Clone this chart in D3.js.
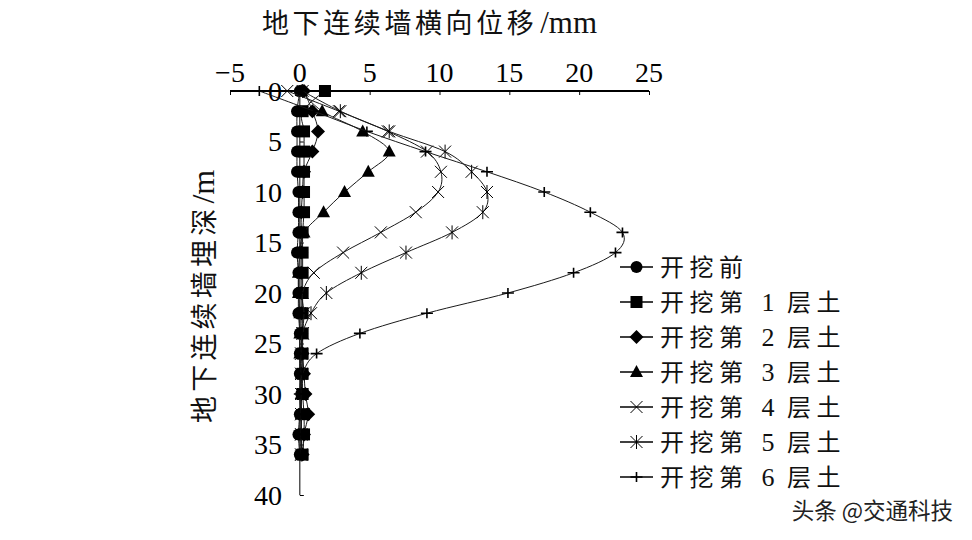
<!DOCTYPE html>
<html><head><meta charset="utf-8">
<script src="https://cdn.jsdelivr.net/npm/d3@7"></script>
<style>
body{margin:0;background:#fff;}
svg{display:block;}
</style></head>
<body>
<svg id="c" width="972" height="540"></svg>
<script>
// ---- data ----
const depths = [0,2,4,6,8,10,12,14,16,18,20,22,24,26,28,30,32,34,36];
const legendPrefix = "开挖第";
const legendSuffix = "层土";
const seriesNames = ["开挖前","开挖第 1 层土","开挖第 2 层土","开挖第 3 层土","开挖第 4 层土","开挖第 5 层土","开挖第 6 层土"];
const seriesLayer = [null,1,2,3,4,5,6];
const s0 = [0,-0.2,-0.2,-0.2,-0.2,-0.1,-0.1,-0.1,-0.2,-0.1,-0.1,-0.1,0,0,0,0.1,0,-0.1,0];
const s1 = [1.8,0.2,0.3,0.3,0.3,0.3,0.3,0.2,0.2,0.2,0.2,0.2,0.2,0.2,0.2,0.2,0.3,0.3,0.2];
const s2 = [0.3,0.9,1.3,0.9,0.3,0.2,0.1,0.1,0.1,0.1,0.1,0.1,0.1,0.2,0.3,0.4,0.6,0.3,0.2];
const s3 = [0.1,1.6,4.5,6.4,4.9,3.2,1.7,0.3,0,-0.1,-0.1,0,0,0,0.1,0.1,0.1,0.1,0.1];
const s4 = [-0.9,2.8,6.3,9.1,10.1,9.9,8.3,5.8,3.1,1.0,0.2,0.3,0.2,0.1,0.1,0.1,0.1,0.1,0.1];
const s5 = [0.2,2.9,6.4,10.4,12.3,13.4,13.1,10.9,7.6,4.4,1.9,0.8,0.2,0.1,0.1,0.1,0.1,0.1,0.1];
const s6 = [-2.9,1.0,4.8,9.0,13.4,17.5,20.8,23.1,22.6,19.6,14.9,9.1,4.3,1.2,0.2,0,0.1,0.1,0.1];
const seriesValues = [s0,s1,s2,s3,s4,s5,s6];
const markerTypes = ["circle","square","diamond","triangle","x","star","plus"];
const xTicks = [-5,0,5,10,15,20,25];
const yTicks = [0,5,10,15,20,25,30,35,40];
const xTitle = "地下连续墙横向位移";
const xUnit = "/mm";
const yTitle = "地下连续墙埋深";
const yUnit = "/m";
const watermark = "头条 @交通科技";

// ---- drawing ----
const svg = d3.select("#c");
const x = d3.scaleLinear().domain([-5,25]).range([230,649]);
const y = d3.scaleLinear().domain([0,40]).range([91,495]);
const serif = "'Liberation Serif','Times New Roman',serif";
const cjk = "'Noto Sans CJK SC','Noto Sans',sans-serif";

// x axis (top)
const xg = svg.append("g").attr("transform",`translate(0,${y(0)})`);
xg.call(d3.axisBottom(x).tickValues(xTicks).tickSize(4).tickFormat(""));
xg.select(".domain").attr("stroke","#000").attr("stroke-width",2.2).attr("d",`M${x(-5)},0H${x(25)}`);
xg.selectAll(".tick line").attr("stroke","#000").attr("stroke-width",1);
svg.append("g").selectAll("text").data(xTicks).join("text")
  .attr("x",d=>x(d)).attr("y",82).attr("text-anchor","middle")
  .attr("font-family",serif).attr("font-size",28).attr("fill","#000")
  .text(d=>d<0?"\u2212"+Math.abs(d):d);

// y axis at x=0
const yg = svg.append("g").attr("transform",`translate(${x(0)},0)`);
yg.call(d3.axisRight(y).tickValues(yTicks).tickSize(4).tickFormat(""));
yg.select(".domain").attr("stroke","#000").attr("stroke-width",1).attr("d",`M0,${y(0)}V${y(40)}`);
yg.selectAll(".tick line").attr("stroke","#000").attr("stroke-width",1);
svg.append("g").selectAll("text").data(yTicks).join("text")
  .attr("x",282).attr("y",d=>y(d)).attr("dy","0.35em").attr("text-anchor","end")
  .attr("font-family",serif).attr("font-size",28).attr("fill","#000")
  .text(d=>d);

// titles
svg.append("text").attr("x",262).attr("y",33).attr("fill","#111")
  .attr("font-family",cjk).attr("font-size",27).attr("letter-spacing",3.6).text(xTitle);
svg.append("text").attr("x",597).attr("y",33).attr("text-anchor","end").attr("fill","#111")
  .attr("font-family",serif).attr("font-size",31).text(xUnit);
const ytc = svg.append("text").attr("transform","translate(214,423) rotate(-90)").attr("fill","#111")
  .attr("font-family",cjk).attr("font-size",27).attr("letter-spacing",4.2).text(yTitle);
const ylen = ytc.node().getComputedTextLength();
svg.append("text").attr("transform",`translate(214,${423-ylen-1}) rotate(-90)`).attr("fill","#111")
  .attr("font-family",serif).attr("font-size",32).text(yUnit);

// marker drawer
function drawMarker(g, type, cx, cy){
  const s = 6;
  if(type==="circle") g.append("circle").attr("cx",cx).attr("cy",cy).attr("r",6).attr("fill","#000");
  else if(type==="square") g.append("rect").attr("x",cx-6).attr("y",cy-6).attr("width",12).attr("height",12).attr("fill","#000");
  else if(type==="diamond") g.append("path").attr("d",`M${cx},${cy-7}L${cx+7},${cy}L${cx},${cy+7}L${cx-7},${cy}Z`).attr("fill","#000");
  else if(type==="triangle") g.append("path").attr("d",`M${cx},${cy-7}L${cx+6.5},${cy+5}L${cx-6.5},${cy+5}Z`).attr("fill","#000");
  else if(type==="x") g.append("path").attr("d",`M${cx-s},${cy-s}L${cx+s},${cy+s}M${cx-s},${cy+s}L${cx+s},${cy-s}`).attr("stroke","#000").attr("stroke-width",1).attr("fill","none");
  else if(type==="star") g.append("path").attr("d",`M${cx-s},${cy-s}L${cx+s},${cy+s}M${cx-s},${cy+s}L${cx+s},${cy-s}M${cx},${cy-s-1}L${cx},${cy+s+1}`).attr("stroke","#000").attr("stroke-width",1).attr("fill","none");
  else if(type==="plus") g.append("path").attr("d",`M${cx-6},${cy}L${cx+6},${cy}M${cx},${cy-5}L${cx},${cy+5}`).attr("stroke","#000").attr("stroke-width",1.6).attr("fill","none");
}

// series
const line = d3.line().x(d=>x(d.v)).y(d=>y(d.d)).curve(d3.curveCatmullRom.alpha(0));
seriesValues.forEach((vals,i)=>{
  const pts = vals.map((v,k)=>({v:v,d:depths[k]}));
  const g = svg.append("g");
  g.append("path").attr("d",line(pts)).attr("fill","none").attr("stroke","#1a1a1a").attr("stroke-width",1);
  pts.forEach(p=>drawMarker(g,markerTypes[i],x(p.v),y(p.d)));
});

// legend
const lg = svg.append("g");
const lfs = 24, lls = 5.5;
seriesNames.forEach((name,i)=>{
  const cy = 267 + i*35;
  lg.append("line").attr("x1",620).attr("x2",653).attr("y1",cy).attr("y2",cy).attr("stroke","#000").attr("stroke-width",1.6);
  drawMarker(lg, markerTypes[i], 636.5, cy);
  const layer = seriesLayer[i];
  if(layer===null){
    lg.append("text").attr("x",660).attr("y",cy).attr("dy","0.36em").attr("fill","#111")
      .attr("font-family",cjk).attr("font-size",lfs).attr("letter-spacing",lls).text(name);
  } else {
    lg.append("text").attr("x",660).attr("y",cy).attr("dy","0.36em").attr("fill","#111")
      .attr("font-family",cjk).attr("font-size",lfs).attr("letter-spacing",lls).text(legendPrefix);
    lg.append("text").attr("x",768).attr("y",cy).attr("dy","0.34em").attr("text-anchor","middle").attr("fill","#111")
      .attr("font-family",serif).attr("font-size",26).text(layer);
    lg.append("text").attr("x",787).attr("y",cy).attr("dy","0.36em").attr("fill","#111")
      .attr("font-family",cjk).attr("font-size",lfs).attr("letter-spacing",lls).text(legendSuffix);
  }
});

// watermark
svg.append("text").attr("x",953).attr("y",519).attr("text-anchor","end")
  .attr("font-family",cjk).attr("font-size",22.5).attr("fill","#222").text(watermark);
</script>
</body></html>
